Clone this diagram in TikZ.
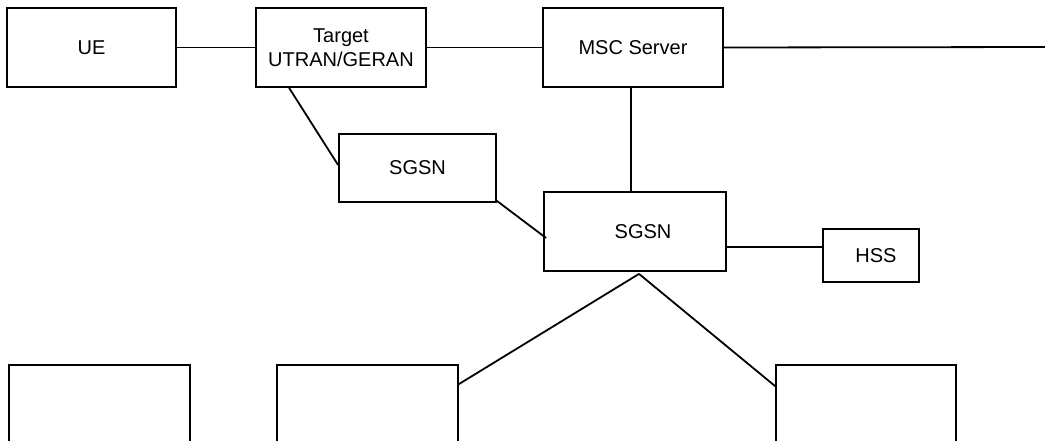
\documentclass[tikz,border=0pt]{standalone}
\usepackage{fontspec}
\setmainfont{Liberation Sans}
\begin{document}
\begin{tikzpicture}[x=1pt,y=-1pt,
  box/.style={draw,line width=1.8pt,rectangle,inner sep=0pt,align=center,
    font=\fontsize{20}{24.5}\selectfont},
  link/.style={line width=1.8pt}]
\useasboundingbox (0,0) rectangle (1045,441);
\clip (0,0) rectangle (1045,441);
% top row
\node[box,minimum width=169pt,minimum height=79pt] (ue) at (91.5,47.5) {UE};
\node[box,minimum width=170pt,minimum height=79pt] (tgt) at (341,47.5) {Target\\UTRAN/GERAN};
\node[box,minimum width=180pt,minimum height=79pt] (msc) at (633,47.5) {MSC Server};
\coordinate (east) at (1050,47);
% middle
\node[box,minimum width=157pt,minimum height=68pt] (sg1) at (417.5,168) {SGSN};
\node[box,minimum width=182pt,minimum height=79pt] (sg2) at (635,231.5) {\hspace*{16pt}SGSN};
\node[box,minimum width=96pt,minimum height=53pt] (hss) at (871,255.5) {\hspace*{10pt}\raisebox{-4pt}{HSS}};
% bottom boxes (cut off)
\node[box,minimum width=181pt,minimum height=90pt] (b1) at (99.5,410) {};
\node[box,minimum width=181pt,minimum height=90pt] (b2) at (367.5,410) {};
\node[box,minimum width=180pt,minimum height=90pt] (b3) at (866,410) {};
% connectors
\draw[link] (ue.east) -- (tgt.west);
\draw[link] (tgt.east) -- (msc.west);
\draw[link] (msc.east) -- (east);
\draw[link] ([xshift=-2pt]msc.south) -- ([xshift=-4pt]sg2.north);
\draw[link] ([xshift=34pt]tgt.south west) -- ([yshift=3pt]sg1.west);
\draw[link] ([yshift=2pt]sg1.south east) -- ([xshift=3pt,yshift=-6.5pt]sg2.west);
\draw[link] ([yshift=-15.5pt]sg2.east) -- ([yshift=8.5pt]hss.west);
\draw[link] ([xshift=4pt,yshift=-2pt]sg2.south) -- ([yshift=-20pt]b2.north east);
\draw[link] ([xshift=4pt,yshift=-2pt]sg2.south) -- ([yshift=-22pt]b3.north west);
\end{tikzpicture}
\end{document}
